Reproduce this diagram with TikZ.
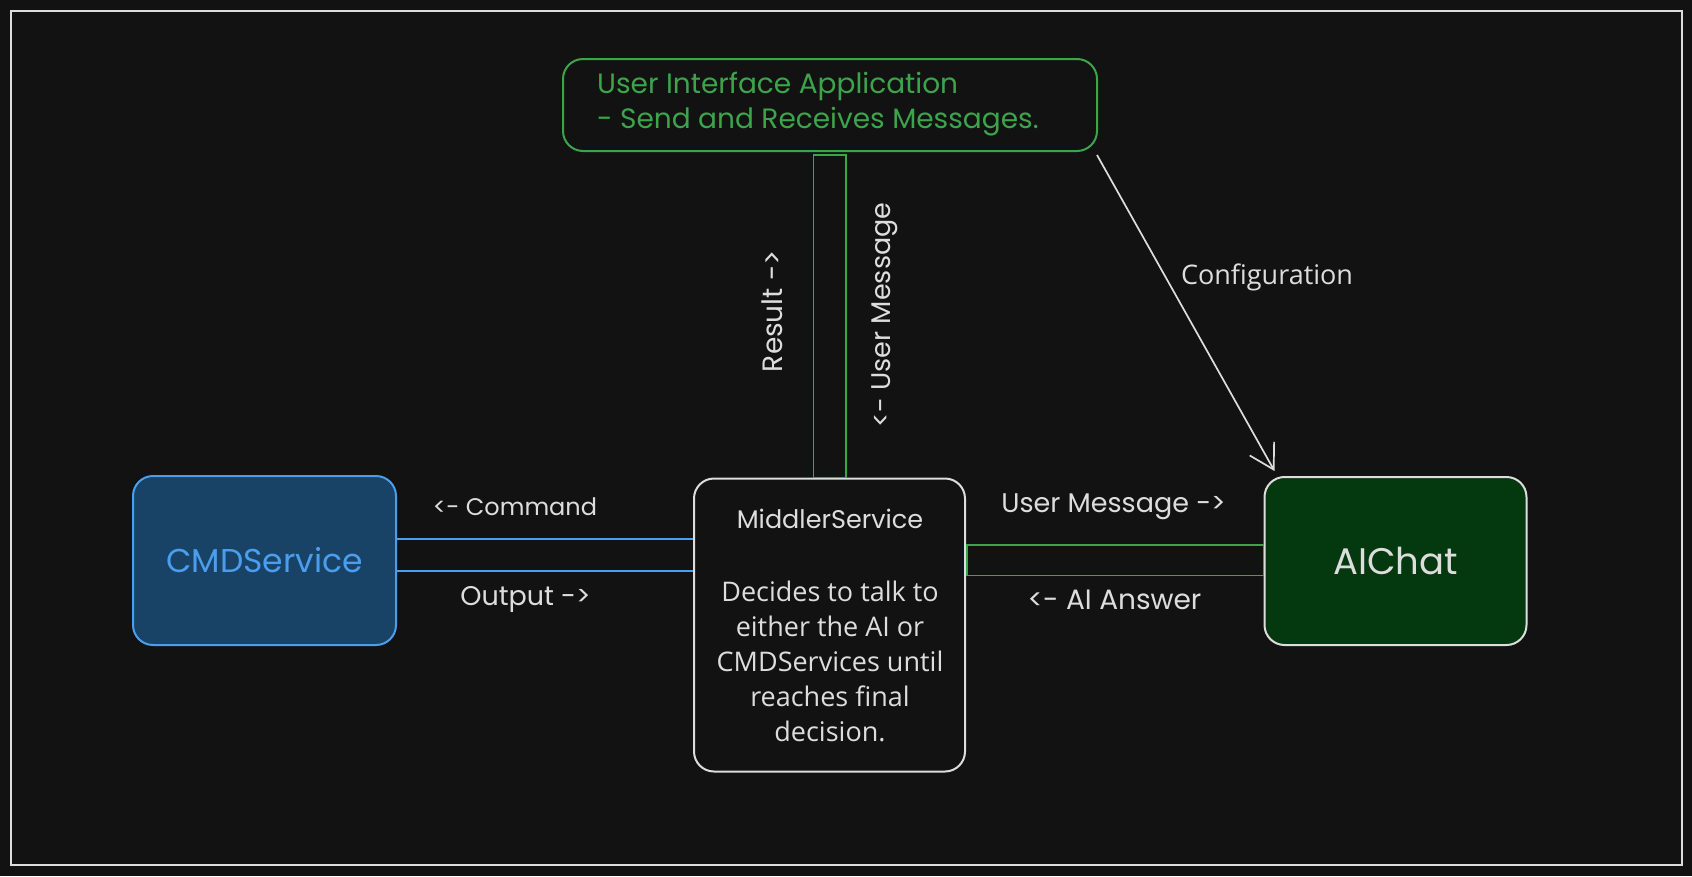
\documentclass[tikz,border=0pt]{standalone}
\usepackage{fontspec}
\setmainfont{Open Sans}
\newfontfamily\hand{Poppins}
\usetikzlibrary{arrows.meta,calc}
\definecolor{bg}{HTML}{121212}
\definecolor{lgray}{HTML}{DDDDDD}
\definecolor{grn}{RGB}{60,165,75}
\definecolor{blu}{RGB}{74,158,237}
\definecolor{cmdfill}{RGB}{24,67,102}
\definecolor{aifill}{RGB}{4,56,15}
\newcommand{\hs}[1]{\hand\fontsize{#1}{#1}\selectfont}
\begin{document}
\begin{tikzpicture}[x=1pt,y=-1pt,
  box/.style={draw, rounded corners=20pt, line width=2pt, inner sep=0pt},
  hlabel/.style={text=lgray, inner sep=0pt},
  conn/.style={line width=1.8pt}]
\fill[bg] (0,0) rectangle (1692,876);
\useasboundingbox (0,0) rectangle (1692,876);
\draw[lgray, line width=1.8pt] (11,11) rectangle (1682,865);

% boxes
\node[box, draw=grn, minimum width=534pt, minimum height=92pt] (ui) at (830,105) {};
\node[anchor=west, align=left, text=grn, inner sep=0pt,
  font=\hand\fontsize{28}{35}\selectfont] (uitext) at (597,104) {User Interface Application\\- Send and Receives Messages.};

\node[box, draw=blu, fill=cmdfill, minimum width=263pt, minimum height=169pt,
  text=blu, font=\hs{33}] (cmd) at (264.5,560.5) {CMDService};

\node[box, draw=lgray, minimum width=271pt, minimum height=293pt] (mid) at (829.5,625) {};
\node[text=lgray, inner sep=0pt, font=\hs{25.5}] (midtitle) at (830,519) {MiddlerService};
\node[text=lgray, inner sep=0pt, align=center, font=\fontsize{27}{34.9}\selectfont] (midbody) at (830,661.5)
  {Decides to talk to\\either the AI or\\CMDServices until\\reaches final\\decision.};

\node[box, draw=lgray, fill=aifill, minimum width=262pt, minimum height=168pt,
  text=lgray, font=\hs{37}] (ai) at (1395.5,561) {AIChat};

% vertical connector UI <-> Middler
\draw[grn, conn] ($(ui.south)+(-16.5,3)$) rectangle ($(mid.north)+(16.5,0)$);
\node[hlabel, rotate=90, font=\hs{28}] (lres) at (772,311) {Result ->};
\node[hlabel, rotate=90, font=\hs{27}] (lum) at (885,315) {<- User Message};

% CMD <-> Middler
\draw[blu, conn] ($(cmd.east)+(0,-21.5)$) -- ($(mid.west)+(0,-86)$);
\draw[blu, conn] ($(cmd.east)+(0,10.5)$) -- ($(mid.west)+(0,-54)$);
\node[hlabel, font=\hs{24}] (lcmd) at (515,507) {<- Command};
\node[hlabel, font=\hs{27}] (lout) at (525.5,599) {Output ->};

% Middler <-> AI
\draw[grn, conn] ($(mid.east)+(1,-80)$) rectangle ($(ai.west)+(0,14.5)$);
\node[hlabel, font=\hs{27}] (lum2) at (1113.5,507) {User Message ->};
\node[hlabel, font=\hs{28}] (lans) at (1114.5,600) {<- AI Answer};

% configuration arrow
\draw[lgray, line width=1.7pt, -{Straight Barb[length=24pt,width=28pt,line width=1.7pt]}]
  ($(ui.south east)+(-1,3)$) -- ($(ai.north west)+(11,-5)$);
\node[text=lgray, inner sep=0pt, font=\fontsize{27}{30}\selectfont] (lconf) at (1267,277) {Configuration};
\end{tikzpicture}
\end{document}
